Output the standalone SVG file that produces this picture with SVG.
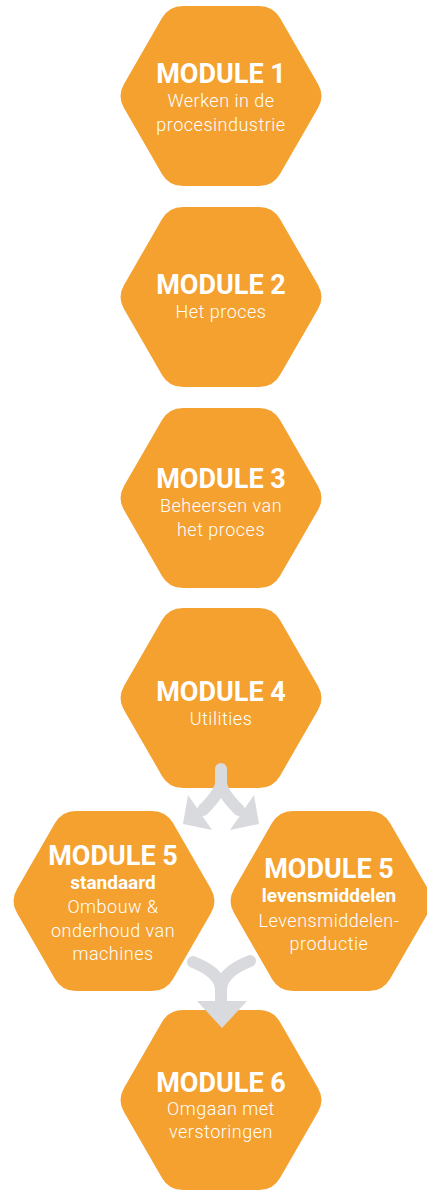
<svg xmlns="http://www.w3.org/2000/svg" xmlns:xlink="http://www.w3.org/1999/xlink" width="427" height="1191" viewBox="0 0 427 1191">
<style>
.hex{fill:#F4A12F}
.t{font-family:Roboto,"Liberation Sans",sans-serif;fill:#fff;text-anchor:middle}
.ti{font-size:27px;font-weight:700}
.sb{font-size:19px;font-weight:700}
.st{font-size:18px;font-weight:300;letter-spacing:0.5px}
.arr{fill:none;stroke:#D9DADD;stroke-width:12;stroke-linecap:round}
.ah{fill:#D9DADD}
</style>
<defs>
<path id="hex" d="M-97,-12.12 L-59,-77.88 Q-52,-90 -38,-90 L38,-90 Q52,-90 59,-77.88 L97,-12.12 Q104,0 97,12.12 L59,77.88 Q52,90 38,90 L-38,90 Q-52,90 -59,77.88 L-97,12.12 Q-104,0 -97,-12.12 Z"/>
</defs>
<g id="module1">
<use xlink:href="#hex" href="#hex" class="hex" transform="translate(221,96)"/>
<text class="t ti" x="221" y="83">MODULE 1</text>
<text class="t st" x="221" y="107">Werken in de</text>
<text class="t st" x="221" y="131">procesindustrie</text>
</g>
<g id="module2">
<use xlink:href="#hex" href="#hex" class="hex" transform="translate(221,297)"/>
<text class="t ti" x="221" y="294">MODULE 2</text>
<text class="t st" x="221" y="318">Het proces</text>
</g>
<g id="module3">
<use xlink:href="#hex" href="#hex" class="hex" transform="translate(221,498)"/>
<text class="t ti" x="221" y="488">MODULE 3</text>
<text class="t st" x="221" y="512">Beheersen van</text>
<text class="t st" x="221" y="536">het proces</text>
</g>
<g id="module4">
<use xlink:href="#hex" href="#hex" class="hex" transform="translate(221,698)"/>
<text class="t ti" x="221" y="701">MODULE 4</text>
<text class="t st" x="221" y="725">Utilities</text>
</g>
<g id="module5-standaard">
<use xlink:href="#hex" href="#hex" class="hex" transform="translate(114,901)"/>
<text class="t ti" x="113" y="865">MODULE 5</text>
<text class="t sb" x="113" y="889">standaard</text>
<text class="t st" x="113" y="913">Ombouw &amp;</text>
<text class="t st" x="113" y="937">onderhoud van</text>
<text class="t st" x="113" y="960">machines</text>
</g>
<g id="module5-levensmiddelen">
<use xlink:href="#hex" href="#hex" class="hex" transform="translate(331,901)"/>
<text class="t ti" x="329" y="878">MODULE 5</text>
<text class="t sb" x="329" y="902">levensmiddelen</text>
<text class="t st" x="329" y="927">Levensmiddelen-</text>
<text class="t st" x="329" y="950">productie</text>
</g>
<g id="module6">
<use xlink:href="#hex" href="#hex" class="hex" transform="translate(221,1100)"/>
<text class="t ti" x="221" y="1092">MODULE 6</text>
<text class="t st" x="221" y="1115">Omgaan met</text>
<text class="t st" x="221" y="1138">verstoringen</text>
</g>
<g id="connectors">
<path class="arr" d="M221,769 L221,782 Q221,792 203,810"/>
<path class="arr" d="M221,782 Q221,792 239,810"/>
<polygon class="ah" points="188,795 183,824 212,830"/>
<polygon class="ah" points="254,795 259,824 230,830"/>
<path class="arr" d="M193,962 C208,968 221,976 221,990 L221,1004"/>
<path class="arr" d="M250,961 C235,967 221,976 221,990"/>
<polygon class="ah" points="197,1001 247,1001 222,1028"/>
</g>
</svg>
